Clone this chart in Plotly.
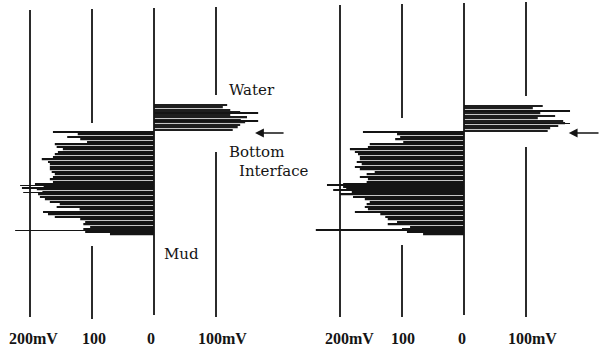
import plotly.graph_objects as go

# ---------------- data (depth in arbitrary log units, potential in mV) ----------------
L_pos_depth = [105, 107.5, 110, 112.5, 115, 117.5, 120, 122.5, 125, 127.5, 130]
L_pos_mv = [118, 111, 123, 139, 123, 150, 140, 147, 139, 135, 127]

L_neg_depth = [132, 134.5, 137, 139.5, 142, 144.5, 147, 149.5, 152, 154.5, 157, 159.5, 162, 164.5,
               167, 169.5, 172, 174.5, 177, 179.5, 182, 184.5, 187, 189.5, 192, 194.5, 197, 199.5,
               202, 204.5, 207, 209.5, 212, 214.5, 217, 219.5, 222, 224.5, 227, 229.5, 232, 234.5]
L_neg_mv = [-163, -123, -140, -119, -108, -160, -157, -147, -155, -160, -163, -181, -171, -168,
            -168, -168, -165, -160, -163, -168, -163, -192, -178, -189, -180, -187, -184, -176,
            -168, -152, -157, -120, -179, -171, -160, -119, -111, -114, -103, -114, -111, -71]

L_spike_depth = [113, 121, 185.5, 188, 192.5, 230.5]
L_spike_mv = [168, 168, -216, -213, -211, -224]

R_pos_depth = [106, 108.5, 111, 113.5, 116, 118.5, 121, 123.5, 126, 128.5, 131]
R_pos_mv = [127, 111, 135, 123, 147, 119, 160, 163, 152, 139, 135]

R_neg_depth = L_neg_depth
R_neg_mv = [-163, -108, -103, -111, -98, -152, -155, -184, -176, -171, -168, -168, -173, -165,
            -176, -168, -144, -157, -168, -155, -157, -195, -195, -190, -181, -200, -179, -160,
            -152, -157, -160, -155, -176, -135, -127, -123, -108, -123, -87, -100, -92, -66]

R_spike_depth = [111, 123.5, 185, 190, 230]
R_spike_mv = [171, 171, -221, -211, -239]

# reference lines (mV) and their drawn depth extents (gaps where labels / bars are)
L_lines = {-200: [(10, 317)], -100: [(9, 123), (246, 319)], 0: [(8, 315)], 100: [(7, 95), (152, 317)]}
R_lines = {-200: [(5, 317)], -100: [(4, 118), (245, 317)], 0: [(3, 315)], 100: [(2, 96), (147, 317)]}

tick_labels = ["200mV", "100", "0", "100mV"]
L_label_pos = [-195, -97, -5, 111]
R_label_pos = [-184, -98, -3, 111]

# ---------------- figure ----------------
fig = go.Figure()

INK = "#141414"

def add_panel(xa, pos_d, pos_v, neg_d, neg_v, sp_d, sp_v, lines):
    xs, ys = [], []
    for mv, segs in lines.items():
        for a, b in segs:
            xs += [mv, mv, None]
            ys += [a, b, None]
    fig.add_trace(go.Scatter(x=xs, y=ys, mode="lines", xaxis=xa, yaxis="y",
                             line=dict(color=INK, width=1.8), hoverinfo="skip"))
    fig.add_trace(go.Bar(x=pos_v, y=pos_d, orientation="h", width=1.6, xaxis=xa, yaxis="y",
                         marker=dict(color="#1e1e1e", line=dict(width=0))))
    fig.add_trace(go.Bar(x=neg_v, y=neg_d, orientation="h", width=1.7, xaxis=xa, yaxis="y",
                         marker=dict(color=INK, line=dict(width=0))))
    fig.add_trace(go.Bar(x=sp_v, y=sp_d, orientation="h", width=1.0, xaxis=xa, yaxis="y",
                         marker=dict(color=INK, line=dict(width=0))))

add_panel("x", L_pos_depth, L_pos_mv, L_neg_depth, L_neg_mv, L_spike_depth, L_spike_mv, L_lines)
add_panel("x2", R_pos_depth, R_pos_mv, R_neg_depth, R_neg_mv, R_spike_depth, R_spike_mv, R_lines)

PX = 0.62  # px per mV
ax_common = dict(showgrid=False, zeroline=False, showticklabels=False, ticks="", showline=False)
fig.update_layout(
    width=600, height=351, margin=dict(l=0, r=0, t=0, b=0),
    paper_bgcolor="white", plot_bgcolor="white", showlegend=False, barmode="overlay",
    xaxis=dict(domain=[0, 0.5], range=[-154 / PX, 146 / PX], **ax_common),
    xaxis2=dict(domain=[0.5, 1], range=[-164 / PX, 136 / PX], **ax_common),
    yaxis=dict(range=[351, 0], **ax_common),
)

txt = dict(family="DejaVu Serif", size=15, color=INK)
ann = []
ann.append(dict(text="Water", x=118, y=90, xref="x", yref="y", xanchor="left", yanchor="middle",
                showarrow=False, font=txt))
ann.append(dict(text="Bottom", x=118, y=152, xref="x", yref="y", xanchor="left", yanchor="middle",
                showarrow=False, font=txt))
ann.append(dict(text="Interface", x=134, y=171, xref="x", yref="y", xanchor="left", yanchor="middle",
                showarrow=False, font=txt))
ann.append(dict(text="Mud", x=13, y=254, xref="x", yref="y", xanchor="left", yanchor="middle",
                showarrow=False, font=txt))
ann.append(dict(text="", x=163, y=133, xref="x", yref="y", showarrow=True, ax=30, ay=0,
                arrowhead=2, arrowsize=1.1, arrowwidth=1.6, arrowcolor=INK))
ann.append(dict(text="", x=169, y=133, xref="x2", yref="y", showarrow=True, ax=36, ay=0,
                arrowhead=2, arrowsize=1.1, arrowwidth=1.6, arrowcolor=INK))
lab_font = dict(family="Liberation Serif", size=16, color=INK, weight="bold")
for xa, positions in (("x", L_label_pos), ("x2", R_label_pos)):
    for t, p in zip(tick_labels, positions):
        ann.append(dict(text=t, x=p, y=338, xref=xa, yref="y", xanchor="center", yanchor="middle",
                        showarrow=False, font=lab_font))
fig.update_layout(annotations=ann)

fig.write_html("out.html")
